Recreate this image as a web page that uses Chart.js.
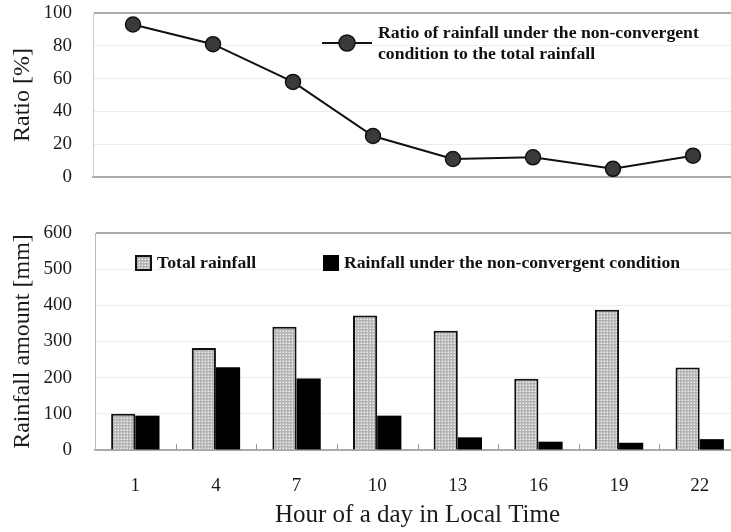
<!DOCTYPE html>
<html>
<head>
<meta charset="utf-8">
<script src="https://cdn.jsdelivr.net/npm/chart.js@4.4.1/dist/chart.umd.min.js"></script>
<style>
  html, body { margin: 0; padding: 0; background: #fff; overflow: hidden; width: 731px; height: 532px; }
  canvas { display: block; }
</style>
</head>
<body>
<canvas id="top" width="745" height="195"></canvas>
<canvas id="bottom" width="745" height="337"></canvas>
<script>
// ---- data ----
const hours = ['1', '4', '7', '10', '13', '16', '19', '22'];
const ratioPercent = [93, 81, 58, 25, 11, 12, 5, 13];
const totalRainfall = [100, 282, 341, 372, 330, 197, 388, 228];
const nonConvergentRainfall = [95, 229, 198, 95, 35, 23, 20, 30];
const ratioTicks = [0, 20, 40, 60, 80, 100];
const rainTicks = [0, 100, 200, 300, 400, 500, 600];

const legendTop = ['Ratio of rainfall under the non-convergent', 'condition to the total rainfall'];
const legendTotal = 'Total rainfall';
const legendNon = 'Rainfall under the non-convergent condition';

Chart.defaults.font.family = "'Liberation Serif', 'Times New Roman', serif";
Chart.defaults.color = '#1a1a1a';

// dotted pattern for total rainfall bars
function makePattern() {
  const c = document.createElement('canvas');
  c.width = 3; c.height = 3;
  const g = c.getContext('2d');
  g.fillStyle = '#b4b4b4'; g.fillRect(0, 0, 3, 3);
  g.fillStyle = '#ececec'; g.fillRect(1, 1, 1, 1);
  g.fillStyle = '#d8d8d8'; g.fillRect(1, 0, 1, 1); g.fillRect(0, 1, 1, 1);
  return g.createPattern(c, 'repeat');
}
const pattern = makePattern();

// ---------------- top chart ----------------
const topLegendPlugin = {
  id: 'topLegend',
  afterDraw(chart) {
    const ctx = chart.ctx;
    ctx.save();
    ctx.strokeStyle = '#111'; ctx.lineWidth = 2;
    ctx.beginPath(); ctx.moveTo(322, 43); ctx.lineTo(372, 43); ctx.stroke();
    ctx.beginPath(); ctx.arc(347, 43, 8, 0, Math.PI * 2);
    ctx.fillStyle = '#3a3a3a'; ctx.fill(); ctx.lineWidth = 1.5; ctx.stroke();
    ctx.fillStyle = '#111';
    ctx.font = "bold 17.7px 'Liberation Serif'";
    ctx.textAlign = 'left'; ctx.textBaseline = 'middle';
    ctx.fillText(legendTop[0], 378, 33);
    ctx.fillText(legendTop[1], 378, 54);
    ctx.restore();
  }
};

new Chart(document.getElementById('top'), {
  type: 'line',
  data: {
    labels: hours,
    datasets: [{
      data: ratioPercent,
      borderColor: '#111',
      borderWidth: 2,
      pointRadius: 7.5,
      pointBackgroundColor: '#3a3a3a',
      pointBorderColor: '#111',
      pointBorderWidth: 1.5,
      tension: 0
    }]
  },
  options: {
    responsive: false,
    devicePixelRatio: 1,
    animation: false,
    layout: { autoPadding: false, padding: { top: 13, right: 12, left: 0, bottom: 0 } },
    plugins: { legend: { display: false }, tooltip: { enabled: false } },
    scales: {
      x: {
        offset: true,
        ticks: { display: false },
        grid: { display: false },
        border: { color: '#aaa', width: 2 },
        afterFit(s) { s.height = 18; }
      },
      y: {
        min: 0, max: 100,
        afterBuildTicks(s) { s.ticks = ratioTicks.map(v => ({ value: v })); },
        ticks: { font: { size: 19 }, color: '#1a1a1a', padding: 0 },
        grid: {
          drawTicks: true, tickLength: 21, tickColor: 'rgba(0,0,0,0)',
          color: c => c.tick && c.tick.value === 100 ? '#aaa' : '#ececec',
          lineWidth: c => c.tick && c.tick.value === 100 ? 2 : 1
        },
        border: { color: '#ccc', width: 1 },
        title: { display: true, text: 'Ratio [%]', font: { size: 24 }, color: '#1a1a1a', padding: { top: 8, bottom: 0 } },
        afterFit(s) { s.width = 93; }
      }
    }
  },
  plugins: [topLegendPlugin]
});

// ---------------- bottom chart ----------------
const bottomExtras = {
  id: 'bottomExtras',
  afterDatasetsDraw(chart) {
    const ctx = chart.ctx;
    const xs = chart.scales.x;
    const bottom = chart.chartArea.bottom;
    ctx.save();
    ctx.strokeStyle = '#999'; ctx.lineWidth = 1;
    for (let i = 1; i < hours.length; i++) {
      const x = Math.round((xs.getPixelForValue(i - 1) + xs.getPixelForValue(i)) / 2) + 0.5;
      ctx.beginPath(); ctx.moveTo(x, bottom); ctx.lineTo(x, bottom - 6); ctx.stroke();
    }
    ctx.restore();
  },
  afterDraw(chart) {
    const ctx = chart.ctx;
    ctx.save();
    // total rainfall swatch
    ctx.fillStyle = pattern;
    ctx.fillRect(136, 61, 15, 14);
    ctx.strokeStyle = '#111'; ctx.lineWidth = 2;
    ctx.strokeRect(136, 61, 15, 14);
    // non-convergent swatch
    ctx.fillStyle = '#000';
    ctx.fillRect(323, 60, 16, 16);
    ctx.fillStyle = '#111';
    ctx.font = "bold 17.7px 'Liberation Serif'";
    ctx.textAlign = 'left'; ctx.textBaseline = 'middle';
    ctx.fillText(legendTotal, 157, 68);
    ctx.fillText(legendNon, 344, 68);
    ctx.restore();
  }
};

new Chart(document.getElementById('bottom'), {
  type: 'bar',
  data: {
    labels: hours,
    datasets: [
      {
        data: totalRainfall,
        backgroundColor: pattern,
        borderColor: '#111',
        borderWidth: 2,
        borderSkipped: 'bottom',
        categoryPercentage: 0.6,
        barPercentage: 1.0
      },
      {
        data: nonConvergentRainfall,
        backgroundColor: '#000',
        borderColor: '#000',
        borderWidth: 0,
        categoryPercentage: 0.6,
        barPercentage: 1.0
      }
    ]
  },
  options: {
    responsive: false,
    devicePixelRatio: 1,
    animation: false,
    layout: { autoPadding: false, padding: { top: 38, right: 5, left: 0, bottom: 0 } },
    plugins: { legend: { display: false }, tooltip: { enabled: false } },
    scales: {
      x: {
        ticks: { font: { size: 19 }, color: '#1a1a1a', padding: 25 },
        grid: { display: false, drawTicks: false, tickLength: 0 },
        border: { color: '#aaa', width: 2 },
        title: { display: true, text: 'Hour of a day in Local Time', font: { size: 25 }, color: '#1a1a1a', padding: { top: 0, bottom: 2 } },
        afterFit(s) { s.height = 82; }
      },
      y: {
        min: 0, max: 600,
        afterBuildTicks(s) { s.ticks = rainTicks.map(v => ({ value: v })); },
        ticks: { font: { size: 19 }, color: '#1a1a1a', padding: 0 },
        grid: {
          drawTicks: true, tickLength: 23, tickColor: 'rgba(0,0,0,0)',
          color: c => c.tick && c.tick.value === 600 ? '#aaa' : '#eeeeee',
          lineWidth: c => c.tick && c.tick.value === 600 ? 2 : 1
        },
        border: { color: '#bbb', width: 1 },
        title: { display: true, text: 'Rainfall amount [mm]', font: { size: 24 }, color: '#1a1a1a', padding: { top: 8, bottom: 0 } },
        afterFit(s) { s.width = 95; }
      }
    }
  },
  plugins: [bottomExtras]
});
</script>
</body>
</html>
